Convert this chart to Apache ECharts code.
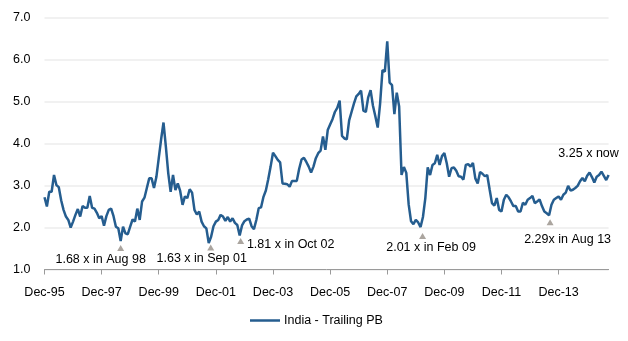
<!DOCTYPE html>
<html>
<head>
<meta charset="utf-8">
<script src="https://cdn.jsdelivr.net/npm/echarts@6/dist/echarts.min.js"></script>
<style>
html,body{margin:0;padding:0;background:#fff;}
#chart{width:628px;height:341px;}
</style>
</head>
<body>
<div id="chart"></div>
<script>
// Monthly India trailing P/B, Dec-95 (index 0) to Sep-15
const seriesName = 'India - Trailing PB';
const pbValues = [
  2.72, 2.50, 2.85, 2.85, 3.25, 3.01, 2.96, 2.65, 2.42, 2.26, 2.18, 2.00,
  2.14, 2.30, 2.44, 2.26, 2.51, 2.47, 2.47, 2.75, 2.47, 2.45, 2.35, 2.22,
  2.27, 2.04, 2.27, 2.42, 2.45, 2.27, 2.02, 1.98, 1.68, 2.02, 1.86, 1.84,
  2.02, 2.19, 2.14, 2.45, 2.18, 2.62, 2.71, 2.94, 3.17, 3.17, 2.94, 3.20,
  3.65, 4.10, 4.50, 3.92, 3.29, 2.85, 3.25, 2.89, 3.05, 2.87, 2.54, 2.74,
  2.70, 2.91, 2.83, 2.42, 2.31, 2.38, 2.14, 2.03, 1.98, 1.63, 1.78, 2.03,
  2.14, 2.18, 2.30, 2.26, 2.16, 2.25, 2.14, 2.22, 2.11, 2.06, 1.81, 2.05,
  2.15, 2.19, 2.21, 2.03, 1.96, 2.18, 2.46, 2.48, 2.73, 2.88, 3.15, 3.45,
  3.78, 3.70, 3.61, 3.55, 3.05, 3.04, 3.03, 2.97, 3.11, 3.11, 3.11, 3.40,
  3.62, 3.66, 3.56, 3.45, 3.31, 3.45, 3.65, 3.77, 3.83, 4.17, 3.85, 4.32,
  4.45, 4.58, 4.75, 4.85, 5.02, 4.18, 4.12, 4.10, 4.55, 4.75, 4.95, 5.12,
  5.18, 5.26, 4.78, 4.75, 5.10, 5.27, 4.90, 4.65, 4.38, 4.95, 5.75, 5.71,
  6.43, 5.45, 5.39, 4.70, 5.21, 4.88, 3.25, 3.44, 3.30, 2.55, 2.15, 2.08,
  2.18, 2.12, 2.01, 2.25, 2.70, 3.43, 3.25, 3.49, 3.53, 3.73, 3.49, 3.70,
  3.77, 3.53, 3.21, 3.41, 3.43, 3.35, 3.22, 3.21, 3.14, 3.49, 3.51, 3.45,
  3.54, 3.17, 3.05, 3.32, 3.28, 3.22, 3.25, 2.91, 2.58, 2.52, 2.70, 2.42,
  2.38, 2.66, 2.78, 2.72, 2.62, 2.51, 2.51, 2.38, 2.38, 2.59, 2.54, 2.66,
  2.70, 2.75, 2.58, 2.62, 2.67, 2.51, 2.38, 2.34, 2.29, 2.54, 2.66, 2.70,
  2.74, 2.66, 2.78, 2.83, 2.99, 2.88, 2.90, 2.94, 2.99, 3.10, 3.18, 3.10,
  3.23, 3.31, 3.20, 3.07, 3.21, 3.25, 3.33, 3.23, 3.13, 3.25
];
// x tick labels every 24 months starting at Dec-95
const xTickLabels = ['Dec-95','Dec-97','Dec-99','Dec-01','Dec-03','Dec-05','Dec-07','Dec-09','Dec-11','Dec-13'];
const xTickMonths = [0, 24, 48, 72, 96, 120, 144, 168, 192, 216];
const yTicks = [1, 2, 3, 4, 5, 6, 7];

// annotations (month index of trough, value, text)
const troughMonths = [32, 69, 82, 158, 212];
const troughValues = [1.68, 1.63, 1.81, 2.01, 2.29];
const troughTexts = ['1.68 x in Aug 98', '1.63 x in Sep 01', '1.81 x in Oct 02', '2.01 x in Feb 09', '2.29x in Aug 13'];
const nowText = '3.25 x now';

// style-only offsets (pixels)
const triOffsets = [[0, 7], [2, 4.5], [1, 5.5], [2, 9], [1, 7]];
const textOffsets = [[-20, 19], [-7, 16], [51, 9.5], [10.5, 20], [18.5, 24]];
const nowOffset = [-20, -21];

const FONT = "'Liberation Sans', Arial, sans-serif";
const FS = 12.5;
const lastIdx = pbValues.length - 1;
const lineData = pbValues.map((v, i) => [i, v]);

const triData = troughMonths.map((m, k) => ({
  coord: [m, troughValues[k]],
  symbol: 'triangle',
  symbolSize: [7, 6],
  symbolOffset: triOffsets[k],
  itemStyle: { color: '#ABA59F' },
  label: { show: false }
}));
const textData = troughMonths.map((m, k) => ({
  coord: [m, troughValues[k]],
  symbol: 'circle',
  symbolSize: 1,
  itemStyle: { color: 'rgba(0,0,0,0)' },
  label: { show: true, position: 'inside', offset: textOffsets[k], formatter: troughTexts[k] }
}));
textData.push({
  coord: [lastIdx, pbValues[lastIdx]],
  symbol: 'circle',
  symbolSize: 1,
  itemStyle: { color: 'rgba(0,0,0,0)' },
  label: { show: true, position: 'inside', offset: nowOffset, formatter: nowText }
});

const chart = echarts.init(document.getElementById('chart'), null, { renderer: 'canvas' });
chart.setOption({
  animation: false,
  textStyle: { fontFamily: FONT },
  grid: { left: 44.5, right: 19.4, top: 17.5, bottom: 71.5, containLabel: false },
  legend: {
    data: [seriesName],
    left: 250,
    top: 314,
    padding: 0,
    icon: 'path://M0,0 L30,0 L30,2.5 L0,2.5 Z',
    itemWidth: 30,
    itemHeight: 2.5,
    itemGap: 4,
    textStyle: { fontFamily: FONT, fontSize: FS, color: '#000', padding: [0, 0, 0, -1] }
  },
  xAxis: {
    type: 'value',
    min: 0,
    max: lastIdx,
    interval: 24,
    axisLine: { show: true, lineStyle: { color: '#9A9A9A', width: 1 } },
    axisTick: { show: true, length: 5, customValues: xTickMonths, lineStyle: { color: '#9A9A9A' } },
    axisLabel: {
      customValues: xTickMonths,
      formatter: v => xTickLabels[xTickMonths.indexOf(v)] || '',
      color: '#000', fontSize: FS, fontFamily: FONT, margin: 17
    },
    splitLine: { show: false }
  },
  yAxis: {
    type: 'value',
    min: yTicks[0],
    max: yTicks[yTicks.length - 1],
    interval: 1,
    axisLine: { show: false },
    axisTick: { show: false },
    axisLabel: { formatter: v => v.toFixed(1), color: '#000', fontSize: FS, fontFamily: FONT, margin: 14 },
    splitLine: { show: true, lineStyle: { color: '#EDEDED', width: 1.5 } }
  },
  series: [{
    name: seriesName,
    type: 'line',
    data: lineData,
    showSymbol: false,
    symbol: 'none',
    lineStyle: { color: '#255D8F', width: 2.5 },
    itemStyle: { color: '#255D8F' },
    markPoint: {
      silent: true,
      animation: false,
      label: { color: '#000', fontSize: FS, fontFamily: FONT },
      data: triData.concat(textData)
    }
  }]
});
</script>
</body>
</html>
